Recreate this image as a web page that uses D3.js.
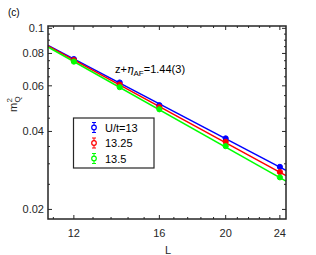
<!DOCTYPE html>
<html>
<head>
<meta charset="utf-8">
<script src="https://cdn.jsdelivr.net/npm/d3@7"></script>
<style>
  body { margin: 0; background: #fff; }
  svg { font-family: "Liberation Sans", Arial, sans-serif; }
</style>
</head>
<body>
<svg width="316" height="255"></svg>
<script>
// system sizes (x values) and m_Q^2 for each U/t
const sizes = [12, 14, 16, 20, 24];
const seriesNames = ["U/t=13", "13.25", "13.5"];
const colors = ["#0000ff", "#ff0000", "#00ff00"];
const m2U13 = [0.0761, 0.0618, 0.0505, 0.0376, 0.0292];
const m2U1325 = [0.0754, 0.0607, 0.0497, 0.0365, 0.0279];
const m2U135 = [0.0744, 0.0593, 0.0487, 0.0351, 0.0266];
const errU13 = [0.0007, 0.0006, 0.0005, 0.0004, 0.0004];
const errU1325 = [0.0007, 0.0006, 0.0005, 0.0004, 0.0004];
const errU135 = [0.0007, 0.0006, 0.0005, 0.0004, 0.0004];
// power-law fit lines, value at L=11 and L=24.5
const fitL = [11, 24.5];
const fitU13 = [0.0859, 0.0283];
const fitU1325 = [0.0855, 0.0270];
const fitU135 = [0.0847, 0.0257];
const xTicks = [12, 16, 20, 24];
const yTicks = [0.02, 0.04, 0.06, 0.08, 0.1];
const yTickLabels = ["0.02", "0.04", "0.06", "0.08", "0.1"];

const series = [
  { name: seriesNames[0], color: colors[0], vals: m2U13, err: errU13, fit: fitU13 },
  { name: seriesNames[1], color: colors[1], vals: m2U1325, err: errU1325, fit: fitU1325 },
  { name: seriesNames[2], color: colors[2], vals: m2U135, err: errU135, fit: fitU135 }
];

const margin = { top: 26, right: 30, bottom: 36, left: 48 };
const width = 316 - margin.left - margin.right,
      height = 255 - margin.top - margin.bottom;

const svg = d3.select("svg");
const g = svg.append("g").attr("transform", `translate(${margin.left},${margin.top})`);

const x = d3.scaleLog().domain([11, 24.5]).range([0, width]);
const y = d3.scaleLog().domain([0.01837, 0.1021]).range([height, 0]);

const axisColor = "#262626";

// minor ticks: x every 0.8, y every 0.005
const xMinor = d3.range(11.2, 24.5, 0.8).filter(v => !xTicks.some(t => Math.abs(t - v) < 1e-6));
const yMinor = d3.range(0.02, 0.1001, 0.005).filter(v => !yTicks.some(t => Math.abs(t - v) < 1e-6));

const ticks = g.append("g").attr("stroke", axisColor).attr("stroke-width", 1);
xTicks.forEach(t => {
  ticks.append("line").attr("x1", x(t)).attr("x2", x(t)).attr("y1", height).attr("y2", height - 4);
  ticks.append("line").attr("x1", x(t)).attr("x2", x(t)).attr("y1", 0).attr("y2", 4);
});
xMinor.forEach(t => {
  ticks.append("line").attr("x1", x(t)).attr("x2", x(t)).attr("y1", height).attr("y2", height - 2);
  ticks.append("line").attr("x1", x(t)).attr("x2", x(t)).attr("y1", 0).attr("y2", 2);
});
yTicks.forEach(t => {
  ticks.append("line").attr("x1", 0).attr("x2", 4).attr("y1", y(t)).attr("y2", y(t));
  ticks.append("line").attr("x1", width).attr("x2", width - 4).attr("y1", y(t)).attr("y2", y(t));
});
yMinor.forEach(t => {
  ticks.append("line").attr("x1", 0).attr("x2", 2).attr("y1", y(t)).attr("y2", y(t));
  ticks.append("line").attr("x1", width).attr("x2", width - 2).attr("y1", y(t)).attr("y2", y(t));
});

// tick labels
g.selectAll(".xl").data(xTicks).enter().append("text")
  .attr("x", d => x(d)).attr("y", height + 18)
  .attr("text-anchor", "middle").attr("font-size", 11).attr("fill", axisColor)
  .text(d => d);
g.selectAll(".yl").data(yTicks).enter().append("text")
  .attr("x", -4).attr("y", d => y(d) + 4)
  .attr("text-anchor", "end").attr("font-size", 11).attr("fill", axisColor)
  .text((d, i) => yTickLabels[i]);

// fit lines
const line = d3.line().x(d => x(d[0])).y(d => y(d[1]));
series.forEach(s => {
  g.append("path")
    .datum(fitL.map((l, i) => [l, s.fit[i]]))
    .attr("d", line)
    .attr("fill", "none")
    .attr("stroke", s.color)
    .attr("stroke-width", 1.5);
});

// data points with error bars
series.forEach(s => {
  const pts = g.append("g");
  sizes.forEach((L, i) => {
    const cx = x(L);
    pts.append("line").attr("x1", cx).attr("x2", cx)
      .attr("y1", y(s.vals[i] - s.err[i])).attr("y2", y(s.vals[i] + s.err[i]))
      .attr("stroke", s.color).attr("stroke-width", 1);
    pts.append("circle").attr("cx", cx).attr("cy", y(s.vals[i])).attr("r", 2.6)
      .attr("fill", s.color).attr("stroke", s.color).attr("stroke-width", 1);
  });
});

// box
g.append("rect").attr("width", width).attr("height", height)
  .attr("fill", "none").attr("stroke", axisColor).attr("stroke-width", 1.5);

// annotation
const ann = g.append("text").attr("x", 67).attr("y", 47).attr("font-size", 11).attr("fill", "#000");
ann.append("tspan").text("z+");
ann.append("tspan").attr("font-family", "DejaVu Serif, serif").attr("font-style", "italic").text("η");
ann.append("tspan").attr("font-size", 8).attr("dy", 3).text("AF");
ann.append("tspan").attr("dy", -3).text("=1.44(3)");

// legend
const leg = svg.append("g").attr("transform", "translate(73.5,118)");
leg.append("rect").attr("width", 80.5).attr("height", 50)
  .attr("fill", "#fff").attr("stroke", axisColor).attr("stroke-width", 1.2);
series.forEach((s, i) => {
  const ly = 9.5 + i * 15.5;
  leg.append("line").attr("x1", 20.5).attr("x2", 20.5).attr("y1", ly - 5).attr("y2", ly + 5)
    .attr("stroke", s.color).attr("stroke-width", 1);
  [ly - 5, ly + 5].forEach(cy => leg.append("line")
    .attr("x1", 18.5).attr("x2", 22.5).attr("y1", cy).attr("y2", cy)
    .attr("stroke", s.color).attr("stroke-width", 1));
  leg.append("circle").attr("cx", 20.5).attr("cy", ly).attr("r", 2.3)
    .attr("fill", "#fff").attr("stroke", s.color).attr("stroke-width", 1.2);
  leg.append("text").attr("x", 31.5).attr("y", ly + 4)
    .attr("font-size", 11).attr("fill", "#000").text(s.name);
});

// axis labels
svg.append("text").attr("x", 168).attr("y", 254)
  .attr("text-anchor", "middle").attr("font-size", 11).attr("fill", axisColor).text("L");

const yl = svg.append("g").attr("transform", "translate(17,104) rotate(-90)");
yl.append("text").attr("x", -8).attr("y", 0).attr("font-size", 11).attr("fill", axisColor).text("m");
yl.append("text").attr("x", 1.5).attr("y", -5).attr("font-size", 8).attr("fill", axisColor).text("2");
yl.append("text").attr("x", 1.5).attr("y", 3).attr("font-size", 8).attr("fill", axisColor).text("Q");

svg.append("text").attr("x", 8).attr("y", 16).attr("font-size", 10).attr("fill", "#000").text("(c)");
</script>
</body>
</html>
